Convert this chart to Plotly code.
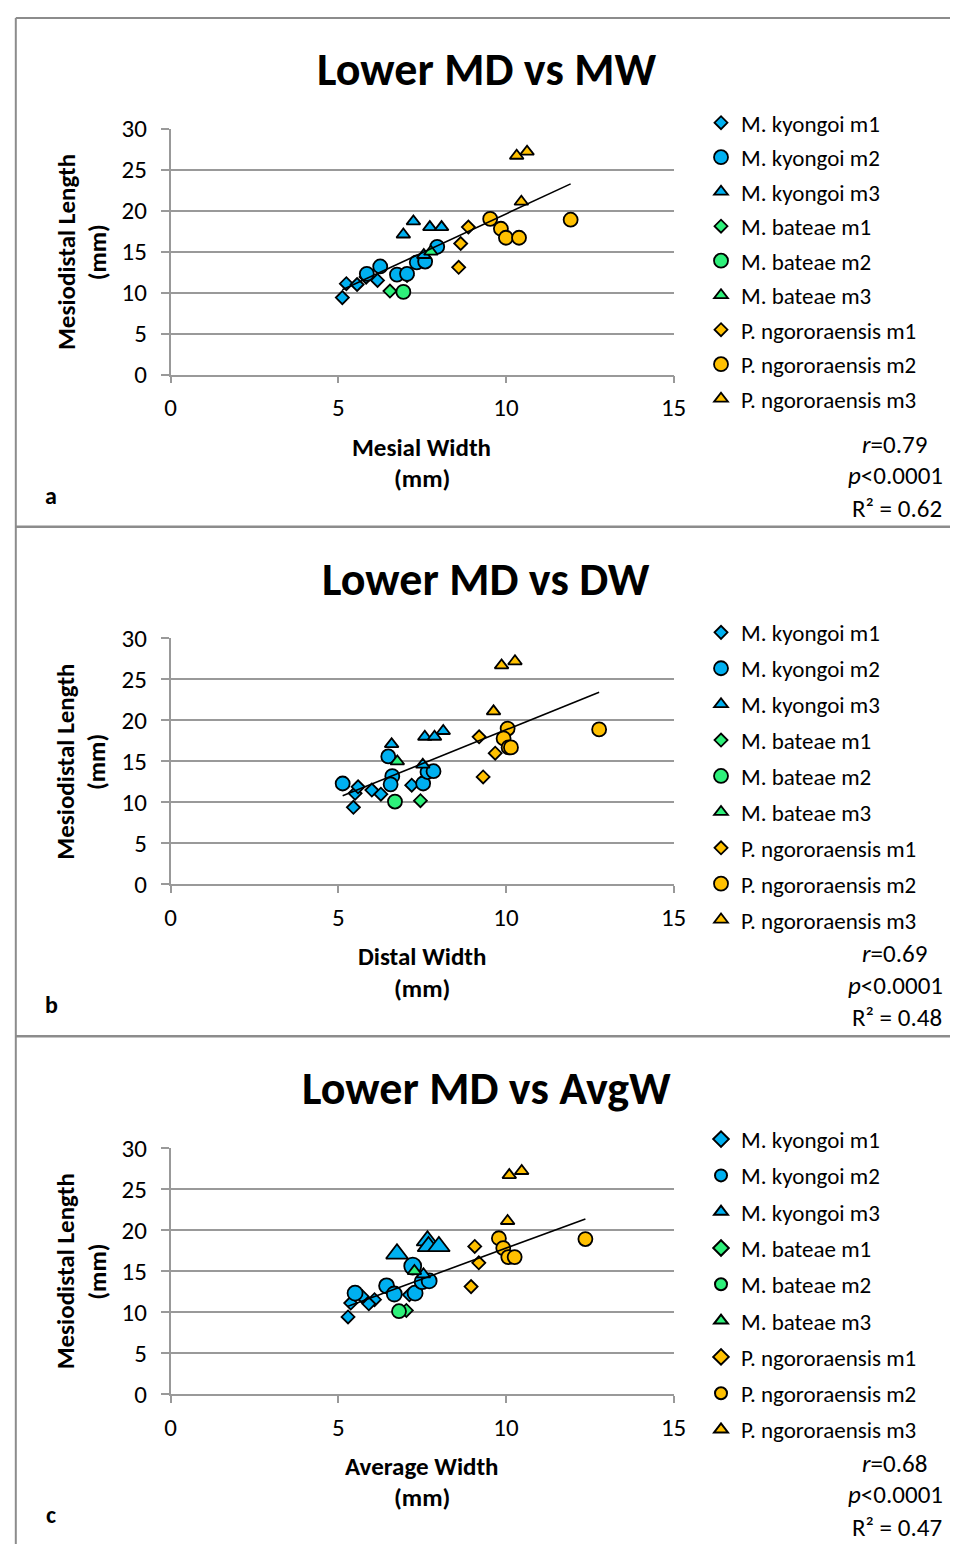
import plotly.graph_objects as go

# ---------------- data ----------------
series_names = ["M. kyongoi m1", "M. kyongoi m2", "M. kyongoi m3",
                "M. bateae m1", "M. bateae m2", "M. bateae m3",
                "P. ngororaensis m1", "P. ngororaensis m2", "P. ngororaensis m3"]

# Mesiodistal length (mm) - shared by all three panels
md_kyo_m1 = [9.4, 11.1, 11.9, 11.5, 11.0, 12.1]
md_kyo_m2 = [12.3, 15.6, 13.2, 12.2, 12.3, 13.7, 13.8]
md_kyo_m3 = [17.1, 18.7, 18.0, 18.0, 14.6]
md_bat_m1 = [10.2]
md_bat_m2 = [10.1]
md_bat_m3 = [15.0]
md_ngo_m1 = [18.0, 16.0, 13.1]
md_ngo_m2 = [19.0, 17.8, 16.7, 16.7, 18.9]
md_ngo_m3 = [26.7, 27.2, 21.1]

# Mesial width (mm)
mw_kyo_m1 = [5.12, 5.24, 5.83, 6.17, 5.56, 7.05]
mw_kyo_m2 = [5.85, 7.95, 6.25, 6.75, 7.05, 7.34, 7.59]
mw_kyo_m3 = [6.94, 7.24, 7.73, 8.08, 7.55]
mw_bat_m1 = [6.54]
mw_bat_m2 = [6.94]
mw_bat_m3 = [7.76]
mw_ngo_m1 = [8.88, 8.65, 8.59]
mw_ngo_m2 = [9.53, 9.85, 10.0, 10.39, 11.93]
mw_ngo_m3 = [10.32, 10.63, 10.46]

# Distal width (mm)
dw_kyo_m1 = [5.45, 5.5, 5.59, 6.0, 6.27, 7.19]
dw_kyo_m2 = [5.13, 6.49, 6.61, 6.56, 7.53, 7.66, 7.84]
dw_kyo_m3 = [6.59, 8.13, 7.58, 7.87, 7.52]
dw_bat_m1 = [7.45]
dw_bat_m2 = [6.69]
dw_bat_m3 = [6.76]
dw_ngo_m1 = [9.2, 9.68, 9.32]
dw_ngo_m2 = [10.05, 9.93, 10.08, 10.15, 12.78]
dw_ngo_m3 = [9.87, 10.27, 9.63]

# Average width (mm)
aw_kyo_m1 = [5.29, 5.37, 5.71, 6.08, 5.91, 7.12]
aw_kyo_m2 = [5.5, 7.22, 6.44, 6.67, 7.29, 7.5, 7.71]
aw_kyo_m3 = [6.75, 7.66, 7.69, 8.0, 7.54]
aw_bat_m1 = [7.03]
aw_bat_m2 = [6.81]
aw_bat_m3 = [7.27]
aw_ngo_m1 = [9.07, 9.19, 8.96]
aw_ngo_m2 = [9.79, 9.92, 10.07, 10.26, 12.37]
aw_ngo_m3 = [10.1, 10.47, 10.05]

# linear trendlines (end points)
trend_mw_x = [5.12, 11.93]
trend_mw_y = [10.35, 23.27]
trend_dw_x = [5.13, 12.78]
trend_dw_y = [10.8, 23.43]
trend_aw_x = [5.29, 12.37]
trend_aw_y = [10.7, 21.35]

x_ticks = [0, 5, 10, 15]
y_ticks = [0, 5, 10, 15, 20, 25, 30]

panel_titles = ["Lower MD vs MW", "Lower MD vs DW", "Lower MD vs AvgW"]
x_titles = [("Mesial Width", "(mm)"), ("Distal Width", "(mm)"), ("Average Width", "(mm)")]
stats_r = ["0.79", "0.69", "0.68"]
stats_p = ["0.0001", "0.0001", "0.0001"]
stats_r2 = ["0.62", "0.48", "0.47"]
panel_letters = ["a", "b", "c"]

md_all = [md_kyo_m1, md_kyo_m2, md_kyo_m3, md_bat_m1, md_bat_m2, md_bat_m3,
          md_ngo_m1, md_ngo_m2, md_ngo_m3]
widths = [
    [mw_kyo_m1, mw_kyo_m2, mw_kyo_m3, mw_bat_m1, mw_bat_m2, mw_bat_m3, mw_ngo_m1, mw_ngo_m2, mw_ngo_m3],
    [dw_kyo_m1, dw_kyo_m2, dw_kyo_m3, dw_bat_m1, dw_bat_m2, dw_bat_m3, dw_ngo_m1, dw_ngo_m2, dw_ngo_m3],
    [aw_kyo_m1, aw_kyo_m2, aw_kyo_m3, aw_bat_m1, aw_bat_m2, aw_bat_m3, aw_ngo_m1, aw_ngo_m2, aw_ngo_m3],
]
trends = [(trend_mw_x, trend_mw_y), (trend_dw_x, trend_dw_y), (trend_aw_x, trend_aw_y)]

# ---------------- styles ----------------
FONT = "Carlito, Calibri, Lato, sans-serif"
BLUE, GREEN, YELLOW = "#00B0F0", "#2EF07A", "#FFC000"
colors = [BLUE] * 3 + [GREEN] * 3 + [YELLOW] * 3
symbols = ["diamond", "circle", "triangle-up"] * 3
base_sizes = {"diamond": 10, "circle": 14, "triangle-up": 12}
GRID = "#999999"

W, H = 963, 1560
def px_x(p):
    return p / W
def px_y(p):
    return (H - p) / H

# panel geometry (pixels)
panel_tops = [0, 520, 1040]
plot_left, plot_right = 168, 681
plot_top_off, plot_bot_off = 116, 367
legend_tops = [88, 88, 85]
legend_gaps = [1.6, 3.0, 3.4]

fig = go.Figure()
annotations = []

def ann(text, x, y, size, xanchor="center", angle=0):
    annotations.append(dict(text=text, x=px_x(x), y=px_y(y), xref="paper", yref="paper",
                            xanchor=xanchor, yanchor="middle", showarrow=False,
                            textangle=angle,
                            font=dict(family=FONT, size=size, color="black")))

for k in range(3):
    off = panel_tops[k]
    xa = "x" if k == 0 else f"x{k+1}"
    ya = "y" if k == 0 else f"y{k+1}"
    lg = "legend" if k == 0 else f"legend{k+1}"
    for i, name in enumerate(series_names):
        sym = symbols[i]
        if k == 2 and i == 2:
            sizes = [19, 19, 19, 19, 12]
        elif k == 2 and i == 1:
            sizes = [15, 17, 15, 15, 15, 15, 15]
        else:
            sizes = base_sizes[sym]
        fig.add_trace(go.Scatter(
            x=widths[k][i], y=md_all[i], mode="markers", name=name,
            xaxis=xa, yaxis=ya, legend=lg, legendgroup=f"{k}-{i}",
            marker=dict(symbol=sym, color=colors[i], size=sizes, opacity=1,
                        line=dict(color="black", width=1.8)),
        ))
    fig.add_trace(go.Scatter(
        x=trends[k][0], y=trends[k][1], mode="lines", showlegend=False,
        xaxis=xa, yaxis=ya, line=dict(color="black", width=1.6),
        hoverinfo="skip",
    ))

    axis_common = dict(ticks="outside", tickcolor=GRID, tickwidth=1.5,
                       showline=True, linecolor=GRID, linewidth=1.5,
                       zeroline=False,
                       tickfont=dict(family=FONT, size=25, color="black"))
    top = off + plot_top_off
    bot = off + plot_bot_off
    fig.update_layout(**{
        ("xaxis" if k == 0 else f"xaxis{k+1}"): dict(
            domain=[px_x(plot_left), px_x(plot_right)], range=[0, 15],
            tickvals=x_ticks, ticklen=7, showgrid=False,
            anchor=ya, ticklabelstandoff=3, **axis_common),
        ("yaxis" if k == 0 else f"yaxis{k+1}"): dict(
            domain=[px_y(bot), px_y(top)], range=[0, 30],
            tickvals=y_ticks, ticklen=8, showgrid=True, gridcolor=GRID,
            gridwidth=1.5, anchor=xa, ticklabelstandoff=9, **axis_common),
        lg: dict(x=px_x(709), y=px_y(off + legend_tops[k]), xanchor="left", yanchor="top",
                 bgcolor="rgba(0,0,0,0)", tracegroupgap=legend_gaps[k],
                 itemsizing="constant" if k == 2 else "trace",
                 font=dict(family=FONT, size=23, color="black"),
                 itemclick=False, itemdoubleclick=False),
    })

    ann(f"<b>{panel_titles[k]}</b>", 490, off + 55, 46)
    ann(f"<b>{x_titles[k][0]}</b>", 424, off + 441, 25)
    ann(f"<b>{x_titles[k][1]}</b>", 424, off + 473, 25)
    ann("<b>Mesiodistal Length</b>", 61, off + 242, 25, angle=-90)
    ann("<b>(mm)</b>", 93, off + 242, 25, angle=-90)
    ann(f"<i>r</i>=" + stats_r[k], 942, off + 438, 25, xanchor="right")
    ann(f"<i>p</i><" + stats_p[k], 958, off + 470, 25, xanchor="right")
    ann("R² = " + stats_r2[k], 957, off + 503, 25, xanchor="right")
    ann(f"<b>{panel_letters[k]}</b>", 46, off + 490, 24)

shapes = [
    dict(type="line", xref="paper", yref="paper", x0=px_x(10), x1=px_x(10), y0=0, y1=px_y(3),
         line=dict(color="#8C8C8C", width=2)),
    dict(type="line", xref="paper", yref="paper", x0=px_x(10), x1=1, y0=px_y(3), y1=px_y(3),
         line=dict(color="#8C8C8C", width=2)),
    dict(type="line", xref="paper", yref="paper", x0=px_x(10), x1=1, y0=px_y(522), y1=px_y(522),
         line=dict(color="#8C8C8C", width=2.5)),
    dict(type="line", xref="paper", yref="paper", x0=px_x(10), x1=1, y0=px_y(1042), y1=px_y(1042),
         line=dict(color="#8C8C8C", width=2.5)),
]

fig.update_layout(
    width=W, height=H, margin=dict(l=0, r=0, t=0, b=0),
    paper_bgcolor="white", plot_bgcolor="white",
    font=dict(family=FONT, color="black"),
    annotations=annotations, shapes=shapes,
)

fig.write_html("out.html", config={"responsive": False},
               post_script="document.body.style.margin='0';document.body.style.overflow='hidden';")
